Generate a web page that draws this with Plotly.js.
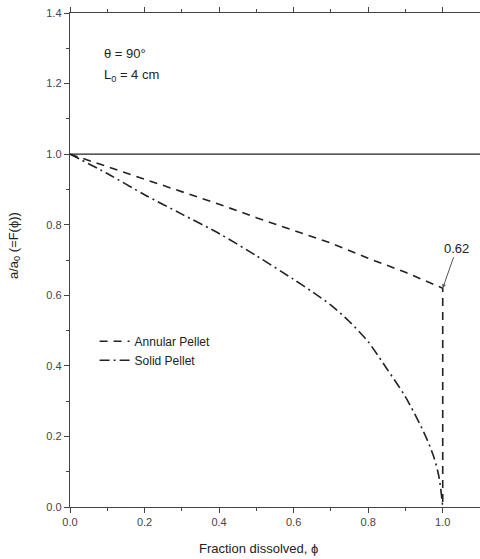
<!DOCTYPE html>
<html>
<head>
<meta charset="utf-8">
<script src="https://cdn.plot.ly/plotly-3.0.1.min.js"></script>
<style>html,body{margin:0;padding:0;background:#fff;}#chart{width:480px;height:559px;}</style>
</head>
<body>
<div id="chart"></div>
<script>
// Data
const annularX = [0.0, 0.1, 0.2, 0.3, 0.4, 0.5, 0.6, 0.7, 0.8, 0.9, 1.0, 1.0];
const annularY = [1.0, 0.965, 0.93, 0.895, 0.858, 0.82, 0.785, 0.748, 0.705, 0.665, 0.62, 0.0];
const solidX = [0.0, 0.1, 0.2, 0.3, 0.4, 0.5, 0.6, 0.65, 0.7, 0.75, 0.8, 0.85, 0.9, 0.95, 0.975, 0.99, 1.0];
const solidY = [1.0, 0.945, 0.885, 0.83, 0.775, 0.712, 0.645, 0.61, 0.572, 0.525, 0.468, 0.392, 0.312, 0.21, 0.145, 0.085, 0.0];
const refLineY = 1.0;
const calloutValue = 0.62;
const xTicks = [0.0, 0.2, 0.4, 0.6, 0.8, 1.0];
const yTicks = [0.0, 0.2, 0.4, 0.6, 0.8, 1.0, 1.2, 1.4];

const font = 'Liberation Sans, Arial, sans-serif';

const traces = [
  {x: annularX, y: annularY, mode: 'lines', name: 'Annular Pellet',
   line: {color: '#222', width: 1.6, dash: '8px,6px'}},
  {x: solidX, y: solidY, mode: 'lines', name: 'Solid Pellet',
   line: {shape: 'spline', smoothing: 0.8, color: '#222', width: 1.6, dash: '10px,4px,2px,4px'}}
];

const layout = {
  width: 480, height: 559,
  margin: {l: 70, r: 0, t: 13, b: 52},
  paper_bgcolor: '#fff', plot_bgcolor: '#fff',
  font: {family: font, color: '#333', size: 11},
  showlegend: true,
  legend: {x: 0.06, y: 0.365, xanchor: 'left', yanchor: 'top', bgcolor: 'rgba(0,0,0,0)',
           font: {family: font, size: 12, color: '#222'}, tracegroupgap: 0},
  xaxis: {
    range: [0, 1.1], tickvals: xTicks, tickformat: '.1f',
    showline: true, linecolor: '#444', linewidth: 1.2, mirror: 'ticks',
    ticks: 'outside', ticklen: 5, tickcolor: '#444',
    minor: {dtick: 0.1, ticks: 'outside', ticklen: 3, tickcolor: '#444'},
    showgrid: false, zeroline: false,
    tickfont: {family: font, size: 11, color: '#444'}
  },
  yaxis: {
    range: [0, 1.4], tickvals: yTicks, tickformat: '.1f',
    showline: true, linecolor: '#444', linewidth: 1.2, mirror: false,
    ticks: 'outside', ticklen: 5, tickcolor: '#444',
    minor: {dtick: 0.1, ticks: 'outside', ticklen: 3, tickcolor: '#444'},
    showgrid: false, zeroline: false,
    tickfont: {family: font, size: 11, color: '#444'}
  },
  shapes: [
    {type: 'line', xref: 'paper', x0: 0, x1: 1, yref: 'y', y0: refLineY, y1: refLineY,
     line: {color: '#222', width: 1.4}}
  ],
  annotations: [
    {xref: 'paper', yref: 'paper', x: 0.078, y: 0.918, xanchor: 'left', yanchor: 'middle', showarrow: false,
     text: 'θ = 90°', font: {family: font, size: 13, color: '#222'}},
    {xref: 'paper', yref: 'paper', x: 0.078, y: 0.874, xanchor: 'left', yanchor: 'middle', showarrow: false,
     text: 'L<sub>0</sub> = 4 cm', font: {family: font, size: 13, color: '#222'}},
    {x: 1.0, y: calloutValue, xref: 'x', yref: 'y', text: calloutValue.toFixed(2),
     showarrow: true, arrowhead: 2, arrowsize: 0.8, arrowwidth: 1, arrowcolor: '#555',
     ax: 14, ay: -40, font: {family: font, size: 13, color: '#222'}},
    {xref: 'paper', yref: 'paper', x: 0.459, y: -0.083, xanchor: 'center', yanchor: 'middle', showarrow: false,
     text: 'Fraction dissolved, ϕ', font: {family: font, size: 13, color: '#222'}},
    {xref: 'paper', yref: 'paper', x: -0.137, y: 0.53, xanchor: 'center', yanchor: 'middle', showarrow: false,
     textangle: -90, text: 'a/a<sub>0</sub> (=F(ϕ))', font: {family: font, size: 13, color: '#222'}}
  ]
};

Plotly.newPlot('chart', traces, layout, {displayModeBar: false, staticPlot: true});
</script>
</body>
</html>
